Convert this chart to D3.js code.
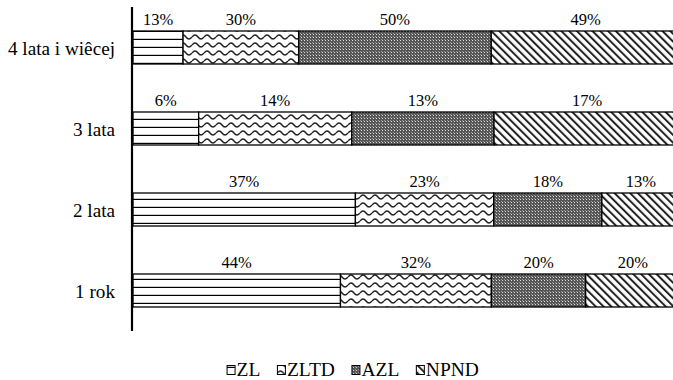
<!DOCTYPE html>
<html>
<head>
<meta charset="utf-8">
<script src="https://cdn.jsdelivr.net/npm/d3@7"></script>
<style>
  html, body { margin: 0; padding: 0; background: #fff; }
  svg { display: block; }
</style>
</head>
<body>
<svg id="chart" width="673" height="380"></svg>
<script>
// ---- data ----
const categories = ["4 lata i wiêcej", "3 lata", "2 lata", "1 rok"];
const seriesNames = ["ZL", "ZLTD", "AZL", "NPND"];
const ZL   = [13, 6, 37, 44];
const ZLTD = [30, 14, 23, 32];
const AZL  = [50, 13, 18, 20];
const NPND = [49, 17, 13, 20];

const table = categories.map((c, i) => ({
  cat: c, ZL: ZL[i], ZLTD: ZLTD[i], AZL: AZL[i], NPND: NPND[i]
}));

const FONT = '"Liberation Serif"';
const svg = d3.select("#chart");

// ---- patterns ----
const defs = svg.append("defs");
// ZL: horizontal lines
const pZL = defs.append("pattern").attr("id", "p-ZL")
  .attr("patternUnits", "userSpaceOnUse").attr("width", 8).attr("height", 8);
pZL.append("rect").attr("width", 8).attr("height", 8).attr("fill", "#fff");
pZL.append("rect").attr("x", 0).attr("y", 6.8).attr("width", 8).attr("height", 1.6).attr("fill", "#000");
// ZLTD: waves
const pZLTD = defs.append("pattern").attr("id", "p-ZLTD")
  .attr("patternUnits", "userSpaceOnUse").attr("width", 12).attr("height", 8);
pZLTD.append("rect").attr("width", 12).attr("height", 8).attr("fill", "#fff");
pZLTD.append("path").attr("d", "M0,5 Q3,1 6,5 T12,5")
  .attr("fill", "none").attr("stroke", "#222").attr("stroke-width", 1.4);
// AZL: dense dotted grey
const pAZL = defs.append("pattern").attr("id", "p-AZL")
  .attr("patternUnits", "userSpaceOnUse").attr("width", 3).attr("height", 3);
pAZL.append("rect").attr("width", 3).attr("height", 3).attr("fill", "#555");
pAZL.append("rect").attr("x", 1).attr("y", 1).attr("width", 1).attr("height", 1).attr("fill", "#ddd");
pAZL.append("rect").attr("x", 0).attr("y", 0).attr("width", 1).attr("height", 1).attr("fill", "#999");
// NPND: diagonal stripes (top-left to bottom-right)
const pNPND = defs.append("pattern").attr("id", "p-NPND")
  .attr("patternUnits", "userSpaceOnUse").attr("width", 5.5).attr("height", 6)
  .attr("patternTransform", "rotate(-45)");
pNPND.append("rect").attr("width", 5.5).attr("height", 6).attr("fill", "#fff");
pNPND.append("rect").attr("x", 0).attr("y", 0).attr("width", 2).attr("height", 6).attr("fill", "#222");

const fillOf = k => `url(#p-${k})`;

// ---- scales ----
const x = d3.scaleLinear().domain([0, 1]).range([133, 680]);
const y = d3.scaleBand().domain(categories).range([7, 331])
  .paddingInner(0.5926).paddingOuter(0.2963);

const stack = d3.stack().keys(seriesNames).offset(d3.stackOffsetExpand);
const layers = stack(table);

const g = svg.append("g");
const layerG = g.selectAll("g.layer").data(layers).join("g").attr("class", "layer");

layerG.selectAll("rect").data(d => d.map(v => ({ key: d.key, v })))
  .join("rect")
  .attr("x", d => x(d.v[0]))
  .attr("y", d => y(d.v.data.cat))
  .attr("width", d => x(d.v[1]) - x(d.v[0]))
  .attr("height", y.bandwidth())
  .attr("fill", d => fillOf(d.key))
  .attr("stroke", "#000")
  .attr("stroke-width", 1.3);

// value labels
layerG.selectAll("text").data(d => d.map(v => ({ key: d.key, v })))
  .join("text")
  .attr("x", d => (x(d.v[0]) + x(d.v[1])) / 2)
  .attr("y", d => y(d.v.data.cat) - 6)
  .attr("text-anchor", "middle")
  .style("font-family", FONT)
  .style("font-size", "16.5px")
  .style("fill", "#000")
  .text(d => d.v.data[d.key] + "%");

// ---- y axis ----
const yAxis = d3.axisLeft(y).tickSize(0).tickPadding(17);
const ax = svg.append("g").attr("transform", "translate(132,0)").call(yAxis)
  .attr("font-family", null).attr("font-size", null);
ax.select(".domain").attr("stroke", "#000").attr("stroke-width", 2.2)
  .attr("d", "M0,7V331");
ax.selectAll(".tick text")
  .style("font-family", FONT)
  .style("font-size", "19.2px").attr("fill", "#000").attr("dy", "0.38em");

// ---- legend ----
const legend = svg.append("g");
const items = legend.selectAll("g").data(seriesNames).join("g");
items.append("rect").attr("width", 8).attr("height", 9)
  .attr("y", 365.5).attr("fill", d => fillOf(d)).attr("stroke", "#000").attr("stroke-width", 1);
items.append("text").attr("x", 9.5).attr("y", 376)
  .style("font-family", FONT).style("font-size", "19.5px").style("fill", "#000").text(d => d);
const widths = [];
items.each(function () {
  const tw = d3.select(this).select("text").node().getComputedTextLength();
  widths.push(9.5 + tw);
});
const gap = 17;
const total = d3.sum(widths) + gap * (widths.length - 1);
let start = 353 - total / 2;
items.attr("transform", (d, i) => {
  const tx = start;
  start += widths[i] + gap;
  return `translate(${tx},0)`;
});
</script>
</body>
</html>
